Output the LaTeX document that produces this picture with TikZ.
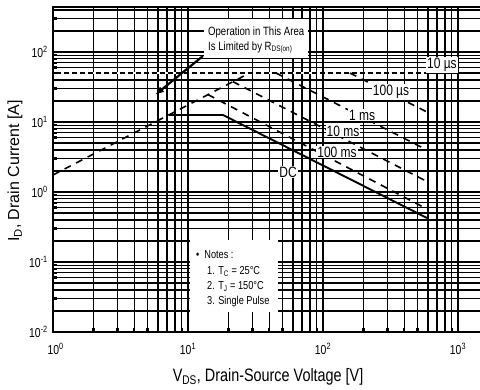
\documentclass[tikz,border=0pt]{standalone}
\usepackage{fontspec}
\setmainfont{Liberation Sans}[FakeStretch=0.8]
\newfontfamily\widefont{Liberation Sans}
\usetikzlibrary{arrows.meta}
\begin{document}
\begin{tikzpicture}[x=135pt,y=70pt,
  gridline/.style={line width=1.3pt, black},
  plotframe/.style={line width=2.6pt, black, line join=miter},
  tickmark/.style={line width=2.4pt, black},
  pulse/.style={line width=1.6pt, dash pattern=on 7pt off 6pt},
  idmline/.style={line width=2.2pt, dash pattern=on 5pt off 3pt},
  idmback/.style={line width=1.8pt, white},
  dcline/.style={line width=1.9pt},
  curvelbl/.style={fill=white, inner sep=1pt, font=\fontsize{15}{15}\selectfont},
  ticklbl/.style={inner sep=1pt, font=\fontsize{13}{13}\selectfont},
  notefont/.style={font=\fontsize{11.5}{15}\selectfont},
]
\useasboundingbox (-0.39259,-2.82857) rectangle (3.16296,2.74286);
\fill[white] (-0.39259,-2.82857) rectangle (3.16296,2.74286);
% grid
\foreach \d in {0,1,2}{\foreach \k in {1,...,9}{
  \draw[gridline] ({\d+log10(\k)},-2) -- ({\d+log10(\k)},2.643);
  \draw[tickmark] ({\d+log10(\k)},-2) -- ({\d+log10(\k)},-1.94);}}
\draw[gridline] (3,-2) -- (3,2.643);
\foreach \d in {-2,-1,0,1}{\foreach \k in {1,...,9}{
  \draw[gridline] (0,{\d+log10(\k)}) -- (3.163,{\d+log10(\k)});
  \draw[tickmark] (0,{\d+log10(\k)}) -- (0.03,{\d+log10(\k)});}}
\foreach \k in {1,2,3,4}{
  \draw[gridline] (0,{2+log10(\k)}) -- (3.163,{2+log10(\k)});
  \draw[tickmark] (0,{2+log10(\k)}) -- (0.03,{2+log10(\k)});}
% frame
\draw[plotframe] (3.163,2.643) -- (0,2.643) -- (0,-2) -- (3.163,-2);
% curves
\coordinate (rs0) at (0,0.243);
\coordinate (rsA) at (1.457,1.7);
\coordinate (idm0) at (0.02,1.7);
\coordinate (tenusEnd) at (2.770,1.7);
\draw[pulse] (rs0) -- (rsA);
\draw[idmback] (idm0) -- (tenusEnd);
\draw[idmline] (idm0) -- (tenusEnd);
\coordinate (hundusA) at (2.2,1.7);   \coordinate (hundusB) at (2.770,1.143);
\coordinate (onemsA) at (1.652,1.7);  \coordinate (onemsB) at (2.770,0.6);
\coordinate (tenmsA) at (1.333,1.576);\coordinate (tenmsB) at (2.770,0.15);
\coordinate (hunmsA) at (1.148,1.391);\coordinate (hunmsB) at (2.770,-0.243);
\coordinate (dcA) at (0.857,1.1); \coordinate (dcB) at (1.259,1.1); \coordinate (dcC) at (2.770,-0.371);
\draw[pulse] (hundusA) -- (hundusB);
\draw[pulse] (onemsA) -- (onemsB);
\draw[pulse] (tenmsA) -- (tenmsB);
\draw[pulse] (hunmsA) -- (hunmsB);
\draw[dcline] (dcA) -- (dcB) -- (dcC);
% curve labels
\node[curvelbl] (l10us) at (2.881,1.814) {10 µs};
\node[curvelbl] (l100us) at (2.504,1.429) {100 µs};
\node[curvelbl] (l1ms) at (2.289,1.1) {1 ms};
\node[curvelbl] (l10ms) at (2.148,0.871) {10 ms};
\node[curvelbl] (l100ms) at (2.104,0.571) {100 ms};
\node[curvelbl] (ldc) at (1.741,0.286) {DC};
% R_DS(on) annotation
\node[fill=white, minimum width=104pt, minimum height=39pt, inner sep=0pt] (opbox) at (1.504,2.193) {};
\node[font=\fontsize{12}{15}\selectfont, align=left, anchor=west, inner sep=0pt] (optext) at (1.148,2.171)
  {Operation in This Area\\Is Limited by R\textsubscript{DS(on)}};
\coordinate (arrA) at (1.111,1.943);
\coordinate (arrB) at (0.756,1.386);
\draw[line width=2.2pt, -{Latex[length=9pt,width=7pt]}] (arrA) -- (arrB);
% notes
\node[fill=white, minimum width=88pt, minimum height=72pt, inner sep=0pt] (notesbox) at (1.341,-1.2) {};
\node[notefont, anchor=west, inner sep=0pt] (noteshead) at (1.059,-0.9) {\textbullet\hspace{5pt}Notes :};
\node[notefont, align=left, anchor=north west, inner sep=0pt] (noteslines) at (1.141,-1.06)
  {1. T\textsubscript{C} = 25°C\\2. T\textsubscript{J} = 150°C\\3. Single Pulse};
% tick labels
\node[ticklbl, anchor=east] (y-2) at (-0.03,-2) {10\textsuperscript{-2}};
\node[ticklbl, anchor=east] (y-1) at (-0.03,-1) {10\textsuperscript{-1}};
\node[ticklbl, anchor=east] (y0) at (-0.03,0) {10\textsuperscript{0}};
\node[ticklbl, anchor=east] (y1) at (-0.03,1) {10\textsuperscript{1}};
\node[ticklbl, anchor=east] (y2) at (-0.03,2) {10\textsuperscript{2}};
\node[ticklbl] (x0) at (0.02,-2.243) {10\textsuperscript{0}};
\node[ticklbl] (x1) at (1,-2.243) {10\textsuperscript{1}};
\node[ticklbl] (x2) at (2,-2.243) {10\textsuperscript{2}};
\node[ticklbl] (x3) at (3,-2.243) {10\textsuperscript{3}};
% axis titles
\node[font=\fontsize{18}{18}\selectfont] (xtitle) at (1.593,-2.643) {V\textsubscript{DS}, Drain-Source Voltage [V]};
\node[font=\widefont\fontsize{16}{16}\selectfont, rotate=90] (ytitle) at (-0.281,0.3) {I\textsubscript{D}, Drain Current [A]};
\end{tikzpicture}
\end{document}
